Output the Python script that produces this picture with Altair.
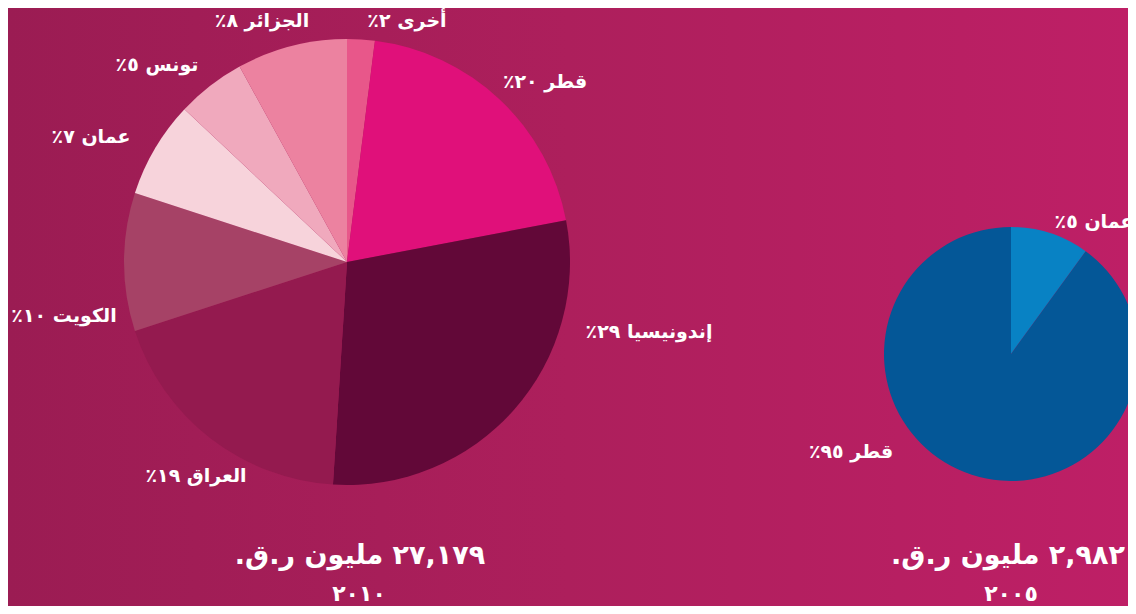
import altair as alt
import pandas as pd

W, H = 1120, 598

# ---- left pie (2010)
left_names = ["أخرى", "قطر", "إندونيسيا", "العراق", "الكويت", "عمان", "تونس", "الجزائر"]
left_shares = [2, 20, 29, 19, 10, 7, 5, 8]
left_colors = ["#E8578A", "#E0107A", "#620838", "#941A4F", "#A64266", "#F7D3DB", "#F0A9BD", "#EC82A0"]
left_labels = ["أخرى ٢٪", "قطر ٢٠٪", "إندونيسيا ٢٩٪", "العراق ١٩٪", "الكويت ١٠٪", "عمان ٧٪", "تونس ٥٪", "الجزائر ٨٪"]
left_label_x = [399, 537, 641, 188, 56, 83, 149, 254]
left_label_y = [13, 74, 324, 468, 308, 129, 57, 13]

# ---- right pie (2005), slice sizes as drawn
right_names = ["عمان", "قطر"]
right_shares = [10, 90]
right_colors = ["#0882C4", "#045797"]
right_labels = ["عمان ٥٪", "قطر ٩٥٪"]
right_label_x = [1086, 843]
right_label_y = [214, 444]

# ---- totals
total_texts = ["٢٧,١٧٩ مليون ر.ق.", "٢,٩٨٢ مليون ر.ق."]
total_x = [352, 1000]
total_y = [548, 548]
year_texts = ["٢٠١٠", "٢٠٠٥"]
year_x = [351, 1003]
year_y = [586, 586]

RLE, PDF = "\u202B", "\u202C"


def rtl(s):
    return RLE + s + PDF


left_df = pd.DataFrame({"name": left_names, "share": left_shares, "color": left_colors,
                        "order": list(range(len(left_names)))})
right_df = pd.DataFrame({"name": right_names, "share": right_shares, "color": right_colors,
                         "order": list(range(len(right_names)))})
labels_df = pd.DataFrame({"text": [rtl(t) for t in left_labels + right_labels],
                          "lx": left_label_x + right_label_x,
                          "ly": left_label_y + right_label_y})
totals_df = pd.DataFrame({"text": [rtl(t) for t in total_texts], "lx": total_x, "ly": total_y})
years_df = pd.DataFrame({"text": [rtl(t) for t in year_texts], "lx": year_x, "ly": year_y})

bg = alt.Chart(alt.Data(values=[{}])).mark_rect(
    fill=alt.Gradient(
        gradient="linear",
        stops=[alt.GradientStop(color="#9B1C53", offset=0),
               alt.GradientStop(color="#AD1F5C", offset=0.5),
               alt.GradientStop(color="#BE1F66", offset=1)],
        x1=0, x2=1, y1=0, y2=0),
).encode(x=alt.value(0), x2=alt.value(W), y=alt.value(0), y2=alt.value(H))

left_pie = alt.Chart(left_df).mark_arc(outerRadius=223).encode(
    theta=alt.Theta("share:Q", stack=True),
    color=alt.Color("color:N", scale=None),
    order=alt.Order("order:Q"),
    x=alt.value(339), y=alt.value(254),
)

right_pie = alt.Chart(right_df).mark_arc(outerRadius=127).encode(
    theta=alt.Theta("share:Q", stack=True),
    color=alt.Color("color:N", scale=None),
    order=alt.Order("order:Q"),
    x=alt.value(1003), y=alt.value(346),
)

FONT = "DejaVu Sans"


def text_layer(df, size):
    return alt.Chart(df).mark_text(
        font=FONT, fontSize=size, fontWeight="bold", color="white",
        align="center", baseline="middle",
    ).encode(
        x=alt.X("lx:Q", scale=None, axis=None),
        y=alt.Y("ly:Q", scale=None, axis=None),
        text="text:N",
    )


labels = text_layer(labels_df, 19)
totals = text_layer(totals_df, 27)
years = text_layer(years_df, 22)

chart = alt.layer(bg, left_pie, right_pie, labels, totals, years).resolve_scale(
    theta="independent"
).properties(
    width=W, height=H, padding=0, autosize=alt.AutoSizeParams(type="none"),
    background="#A41E57",
).configure_view(stroke=None)

chart.save("out.html", embed_options={"renderer": "svg", "actions": False})
